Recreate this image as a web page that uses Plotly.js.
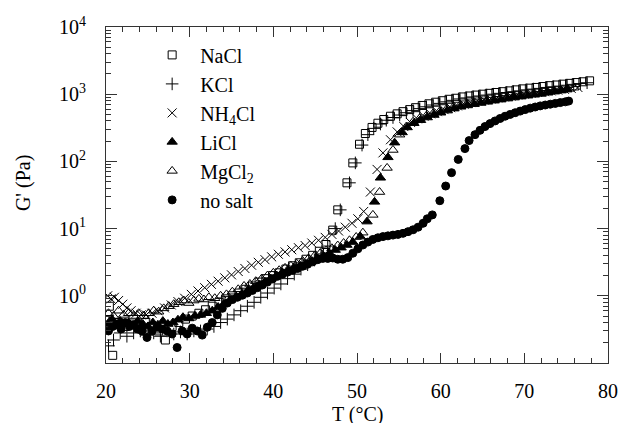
<!DOCTYPE html>
<html>
<head>
<meta charset="utf-8">
<script src="https://cdn.plot.ly/plotly-3.0.1.min.js"></script>
<style>html,body{margin:0;padding:0;background:#fff;}#chart{width:623px;height:423px;}</style>
</head>
<body>
<div id="chart"></div>
<script>
// [T (°C), G' (Pa)]
const nacl = [[20.4,0.7],[20.8,0.13],[21.5,0.4],[22.3,0.35],[23.1,0.38],[23.9,0.33],[24.7,0.4],[25.5,0.35],[26.3,0.3],[27.1,0.22],[27.9,0.35],[28.7,0.4],[29.5,0.45],
[30.3,0.5],[31.1,0.55],[31.9,0.62],[32.7,0.7],[33.5,0.8],[34.3,0.9],[35.1,1.0],[35.9,1.1],[36.7,1.25],[37.5,1.4],[38.3,1.6],[39.1,1.8],[39.9,2.0],[40.7,2.2],[41.5,2.5],[42.3,2.8],[43.1,3.1],[43.9,3.5],[44.7,4.0],[45.5,4.6],[46.3,5.8],[47.1,9.5],
[47.7,19],[48.8,48],[49.5,95],[50.3,180],[51.0,260],[51.8,320],
[52.5,370],[53.2,420],[54.0,470],[54.8,510],[55.5,550],[56.3,590],[57.0,630],[57.8,680],[58.6,720],[59.4,760],[60.2,800],[61.0,840],[61.8,870],[62.6,910],[63.4,940],[64.2,970],[65.0,1000],[65.8,1030],[66.6,1060],[67.4,1090],[68.2,1120],[69.0,1160],[69.8,1200],[70.6,1230],[71.4,1260],[72.2,1300],[73.0,1340],[73.8,1370],[74.6,1410],[75.4,1450],[76.2,1490],[77.0,1530],[77.8,1580]];

const kcl = [[20.3,0.18],[20.9,0.22],[21.7,0.28],[22.5,0.25],[23.3,0.28],[24.1,0.3],[24.9,0.26],[25.7,0.28],[26.5,0.25],[27.3,0.3],[28.1,0.27],[28.9,0.29],[29.7,0.27],[30.5,0.3],[31.3,0.3],[32.1,0.32],[32.9,0.35],[33.7,0.4],[34.5,0.45],[35.3,0.52],[36.1,0.6],[36.9,0.7],[37.7,0.8],[38.5,0.95],[39.3,1.1],[40.1,1.3],[40.9,1.5],[41.7,1.8],[42.5,2.1],[43.3,2.5],[44.1,2.9],[44.9,3.4],[45.7,4.2],[46.5,5.5],
[47.4,10],[48.0,19],[49.1,48],[49.8,95],[50.6,175],[51.3,250],[52.0,310],[52.8,360],[53.5,410],[54.3,450],[55.1,490],[55.9,530],[56.7,570],[57.5,610],[58.3,650],[59.1,690],[59.9,730],[60.7,770],[61.5,810],[62.3,850],[63.1,880],[63.9,910],[64.7,940],[65.5,970],[66.3,1000],[67.1,1030],[67.9,1060],[68.7,1090],[69.5,1120],[70.3,1160],[71.1,1190],[71.9,1220],[72.7,1260],[73.5,1290],[74.3,1320],[75.1,1360],[75.9,1400],[76.7,1440],[77.5,1480]];

const nh4cl = [[20.2,1.0],[20.6,0.9],[21.0,0.95],[21.5,0.85],[22.0,0.75],[22.5,0.66],[23.0,0.6],[23.6,0.55],[24.2,0.52],[24.8,0.52],[25.5,0.55],[26.2,0.6],[27.0,0.66],[27.8,0.73],[28.6,0.82],[29.4,0.92],[30.2,1.05],[31.0,1.18],[31.8,1.32],[32.6,1.48],[33.4,1.65],[34.2,1.85],[35.0,2.05],[35.8,2.3],[36.6,2.55],[37.4,2.85],[38.2,3.15],[39.0,3.45],[39.8,3.8],[40.6,4.15],[41.4,4.5],[42.2,4.85],[43.0,5.2],[43.8,5.6],[44.6,6.1],[45.4,6.7],[46.2,7.4],[47.0,8.2],[47.8,9.2],[48.6,10.5],[49.4,12],[50.1,14],
[50.8,18],[51.6,35],[52.4,76],[53.1,134],[54.0,210],[54.8,275],[55.6,330],[56.4,380],[57.2,430],[58.0,470],[58.8,510],[59.6,550],[60.4,590],[61.2,630],[62.0,670],[62.8,710],[63.6,750],[64.4,790],[65.2,820],[66.0,850],[66.8,880],[67.6,910],[68.4,940],[69.2,970],[70.0,1000],[70.8,1030],[71.6,1060],[72.4,1090],[73.2,1120],[74.0,1150],[74.8,1180],[75.6,1220],[76.4,1260]];

const licl = [[20.2,0.38],[20.7,0.45],[21.2,0.35],[21.7,0.42],[22.2,0.38],[22.7,0.4],[23.2,0.36],[23.8,0.42],[24.4,0.38],[25.0,0.35],[25.6,0.4],[26.2,0.37],[26.8,0.42],[27.4,0.38],[28.0,0.4],[28.6,0.44],[29.2,0.48],[29.9,0.46],[30.6,0.5],[31.3,0.52],[32.0,0.55],[32.7,0.6],[33.4,0.68],[34.1,0.76],[34.8,0.85],[35.5,0.95],[36.2,1.05],[36.9,1.18],[37.6,1.3],[38.3,1.45],[39.0,1.6],[39.7,1.8],[40.4,2.0],[41.1,2.2],[41.8,2.4],[42.5,2.6],[43.2,2.8],[43.9,3.0],[44.6,3.3],[45.3,3.6],[46.0,3.9],[46.7,4.3],[47.4,4.8],[48.1,5.2],[48.8,5.7],[49.5,6.3],
[50.4,7.6],[51.2,12.7],[52.1,25],[52.8,57],[53.7,115],[54.5,190],[55.4,270],[56.0,320],[56.8,370],[57.6,410],[58.4,450],[59.2,490],[60.0,530],[60.8,570],[61.6,610],[62.4,650],[63.2,680],[64.0,710],[64.8,740],[65.6,770],[66.4,800],[67.2,830],[68.0,860],[68.8,890],[69.6,920],[70.4,950],[71.2,980],[72.0,1010],[72.8,1050],[73.6,1090],[74.4,1130],[75.1,1170]];

const mgcl2 = [[20.3,0.55],[20.9,0.5],[21.5,0.6],[22.1,0.52],[22.7,0.55],[23.3,0.5],[23.9,0.55],[24.5,0.5],[25.1,0.55],[25.7,0.6],[26.3,0.58],[26.9,0.65],[27.5,0.7],[28.1,0.75],[28.7,0.8],[29.3,0.85],[29.9,0.78],[30.5,0.85],[31.1,0.9],[31.7,0.88],[32.3,0.95],[33.0,0.92],[33.7,1.0],[34.4,1.05],[35.1,1.15],[35.8,1.25],[36.5,1.4],[37.2,1.5],[37.9,1.65],[38.6,1.8],[39.3,2.0],[40.0,2.2],[40.7,2.4],[41.4,2.6],[42.1,2.8],[42.8,3.0],[43.5,3.3],[44.2,3.6],[44.9,3.9],[45.6,4.3],[46.3,4.7],[47.0,5.1],[47.7,5.6],[48.4,6.1],[49.1,6.7],[49.9,7.5],
[50.7,8.7],[51.9,16],[52.7,35],[53.6,80],[54.3,148],[55.1,250],[55.9,330],[56.7,390],[57.5,440],[58.3,480],[59.1,520],[59.9,560],[60.7,600],[61.5,640],[62.3,680],[63.1,710],[63.9,740],[64.7,770],[65.5,800],[66.3,830],[67.1,860],[67.9,890],[68.7,920],[69.5,950],[70.3,980],[71.1,1010],[71.9,1040],[72.7,1080],[73.5,1120],[74.3,1160],[75.1,1200],[75.9,1250]];

const nosalt = [[20.3,0.3],[20.8,0.35],[21.3,0.38],[21.8,0.32],[22.3,0.4],[22.8,0.35],[23.3,0.37],[23.8,0.32],[24.3,0.3],[24.9,0.24],[25.5,0.3],[26.1,0.34],[26.7,0.32],[27.3,0.3],[27.9,0.27],[28.5,0.17],[29.1,0.3],[29.7,0.27],[30.3,0.33],[30.9,0.3],[31.5,0.26],[32.1,0.34],[32.7,0.4],[33.3,0.52],[33.9,0.65],[34.5,0.78],[35.1,0.88],[35.7,0.95],[36.3,1.02],[36.9,1.1],[37.5,1.2],[38.1,1.32],[38.7,1.45],[39.3,1.6],[39.9,1.78],[40.5,1.95],[41.1,2.1],[41.7,2.25],[42.3,2.4],[42.9,2.55],[43.5,2.75],[44.1,2.95],[44.7,3.2],[45.3,3.45],[45.9,3.6],[46.5,3.6],[47.1,3.65],[47.7,3.5],[48.3,3.5],[48.9,3.7],[49.5,4.3],[50.1,5.0],[50.7,5.7],[51.3,6.3],[51.9,6.9],[52.5,7.3],[53.1,7.6],[53.7,7.8],[54.3,8.0],[54.9,8.2],[55.5,8.5],[56.1,9.0],[56.7,9.6],[57.3,10.5],[57.9,12],[58.4,14],[59.0,16],
[59.9,26],[60.6,43],[61.3,68],[62.1,107],[62.9,155],[63.4,204],[64.1,250],[64.7,290],[65.3,330],[65.9,365],[66.5,400],[67.1,435],[67.7,470],[68.3,500],[68.9,530],[69.5,560],[70.1,590],[70.7,620],[71.3,645],[71.9,670],[72.5,690],[73.1,710],[73.7,730],[74.3,750],[74.9,770],[75.3,790]];

const seriesNames = ['NaCl', 'KCl', 'NH<sub>4</sub>Cl', 'LiCl', 'MgCl<sub>2</sub>', 'no salt'];
const yTickVals = [1, 10, 100, 1000, 10000];
const yTickText = ['10<sup>0</sup>', '10<sup>1</sup>', '10<sup>2</sup>', '10<sup>3</sup>', '10<sup>4</sup>'];

const FONT = 'Liberation Serif, Times New Roman, serif';
const seriesData = [nacl, kcl, nh4cl, licl, mgcl2, nosalt];
const symbols = ['square-open', 'cross-thin-open', 'x-thin-open', 'triangle-up', 'triangle-up-open', 'circle'];
const sizes = [8, 9, 9, 9, 9, 8];

const traces = seriesData.map((d, i) => ({
  type: 'scatter', mode: 'markers', name: seriesNames[i], legendgroup: 'g' + i,
  x: d.map(p => p[0]), y: d.map(p => p[1]),
  marker: {symbol: symbols[i], size: sizes[i], color: '#000', line: {color: '#000', width: 1}}
}));

const layout = {
  width: 623, height: 423,
  margin: {l: 106, r: 15, t: 27, b: 60},
  paper_bgcolor: '#fff', plot_bgcolor: '#fff',
  font: {family: FONT, size: 20, color: '#000'},
  showlegend: true,
  legend: {x: 0.076, y: 0.975, xanchor: 'left', yanchor: 'top', bgcolor: 'rgba(0,0,0,0)',
    font: {family: FONT, size: 20, color: '#000'}, traceorder: 'grouped', tracegroupgap: 0, itemwidth: 46},
  xaxis: {range: [20, 80], dtick: 10, tick0: 0, ticks: 'inside', ticklen: 10, tickcolor: '#333',
    showline: true, linecolor: '#333', linewidth: 1, mirror: 'allticks', showgrid: false, zeroline: false,
    ticklabelstandoff: 10, tickfont: {family: FONT, size: 20, color: '#000'},
    minor: {dtick: 2, ticks: 'inside', ticklen: 5, tickcolor: '#333', showgrid: false}},
  yaxis: {type: 'log', range: [-1, 4], tickmode: 'array', tickvals: yTickVals, ticktext: yTickText,
    ticks: 'inside', ticklen: 11, tickcolor: '#333',
    showline: true, linecolor: '#333', linewidth: 1, mirror: 'allticks', showgrid: false, zeroline: false,
    ticklabelstandoff: 15, tickfont: {family: FONT, size: 20, color: '#000'},
    minor: {dtick: 'D1', ticks: 'inside', ticklen: 5, tickcolor: '#333', showgrid: false}},
  annotations: [
    {text: 'T (°C)', xref: 'paper', yref: 'paper', x: 0.502, y: -0.152, xanchor: 'center', yanchor: 'middle', showarrow: false, font: {family: FONT, size: 20, color: '#000'}},
    {text: "G' (Pa)", xref: 'paper', yref: 'paper', x: -0.163, y: 0.536, xanchor: 'center', yanchor: 'middle', textangle: -90, showarrow: false, font: {family: FONT, size: 20, color: '#000'}}
  ]
};

Plotly.newPlot('chart', traces, layout, {displayModeBar: false, staticPlot: true});
</script>
</body>
</html>
